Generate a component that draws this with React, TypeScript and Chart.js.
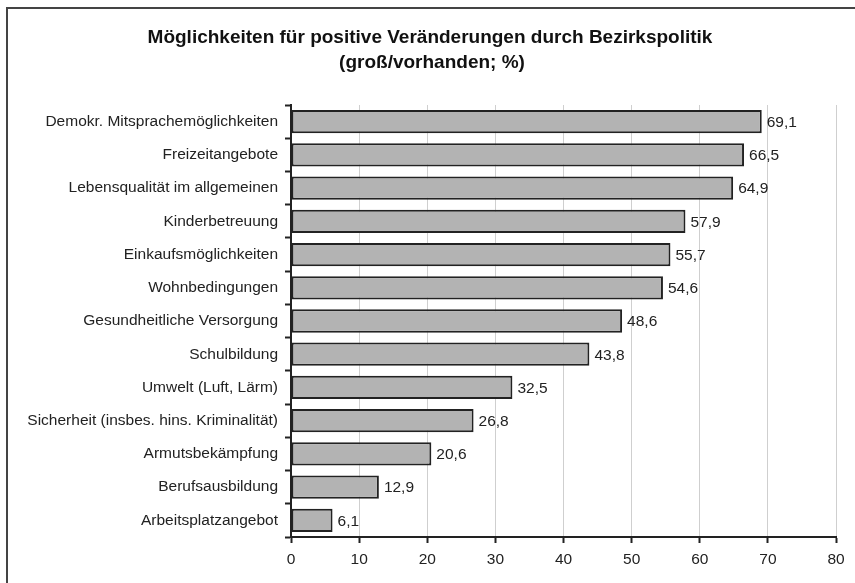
import React, { useEffect, useRef } from "react";
import { Chart, registerables } from "chart.js";

Chart.register(...registerables);

const titleLines = [
  "Möglichkeiten für positive Veränderungen durch Bezirkspolitik",
  "(groß/vorhanden; %)",
];

const categories = [
  "Demokr. Mitsprachemöglichkeiten",
  "Freizeitangebote",
  "Lebensqualität im allgemeinen",
  "Kinderbetreuung",
  "Einkaufsmöglichkeiten",
  "Wohnbedingungen",
  "Gesundheitliche Versorgung",
  "Schulbildung",
  "Umwelt (Luft, Lärm)",
  "Sicherheit (insbes. hins. Kriminalität)",
  "Armutsbekämpfung",
  "Berufsausbildung",
  "Arbeitsplatzangebot",
];

const values = [69.1, 66.5, 64.9, 57.9, 55.7, 54.6, 48.6, 43.8, 32.5, 26.8, 20.6, 12.9, 6.1];

const xMin = 0;
const xMax = 80;
const xStep = 10;

const FONT = '"Liberation Sans", Arial, Helvetica, sans-serif';
const LABEL_SIZE = 15.5;

const titlePlugin = {
  id: "customTitle",
  afterDraw(chart: any) {
    const ctx = chart.ctx;
    ctx.save();
    ctx.fillStyle = "#111";
    ctx.font = `bold 19px ${FONT}`;
    ctx.textAlign = "center";
    ctx.textBaseline = "alphabetic";
    ctx.fillText(titleLines[0], 430, 43);
    ctx.fillText(titleLines[1], 432, 68);
    ctx.restore();
  },
};

const valueLabelPlugin = {
  id: "valueLabels",
  afterDatasetsDraw(chart: any) {
    const ctx = chart.ctx;
    const meta = chart.getDatasetMeta(0);
    ctx.save();
    ctx.fillStyle = "#222";
    ctx.font = `${LABEL_SIZE}px ${FONT}`;
    ctx.textAlign = "left";
    ctx.textBaseline = "middle";
    meta.data.forEach((bar: any, i: number) => {
      const label = values[i].toFixed(1).replace(".", ",");
      ctx.fillText(label, bar.x + 5, bar.y + 1);
    });
    ctx.restore();
  },
};

export default function App() {
  const ref = useRef<HTMLCanvasElement | null>(null);

  useEffect(() => {
    if (!ref.current) return;
    const chart = new Chart(ref.current, {
      type: "bar",
      data: {
        labels: categories,
        datasets: [
          {
            data: values,
            backgroundColor: "#b3b3b3",
            borderColor: "#222",
            borderWidth: 2,
            borderSkipped: false,
            barPercentage: 0.7,
            categoryPercentage: 1,
          },
        ],
      },
      options: {
        indexAxis: "y",
        animation: false,
        responsive: false,
        maintainAspectRatio: false,
        layout: { padding: { left: 0, right: 19, top: 105, bottom: 0 } },
        plugins: {
          legend: { display: false },
          title: { display: false },
          tooltip: { enabled: false },
        },
        scales: {
          x: {
            min: xMin,
            max: xMax,
            ticks: {
              stepSize: xStep,
              color: "#222",
              font: { family: FONT, size: LABEL_SIZE },
              padding: 7,
            },
            grid: {
              color: "#cfcfcf",
              lineWidth: 1,
              tickColor: "#222",
              tickLength: 6,
              tickWidth: 2,
            },
            border: { color: "#222", width: 2 },
            afterFit: (scale: any) => {
              scale.height = 46;
            },
          },
          y: {
            ticks: {
              color: "#222",
              font: { family: FONT, size: LABEL_SIZE },
              padding: 7,
            },
            grid: {
              drawOnChartArea: false,
              offset: true,
              tickColor: "#222",
              tickLength: 6,
              tickWidth: 2,
            },
            border: { color: "#222", width: 2 },
            afterFit: (scale: any) => {
              scale.width = 291;
            },
          },
        },
      },
      plugins: [titlePlugin, valueLabelPlugin],
    });
    return () => chart.destroy();
  }, []);

  return (
    <div style={{ position: "fixed", left: 0, top: 0, width: 855, height: 583, background: "#fff", overflow: "hidden" }}>
      <div
        style={{
          position: "absolute",
          left: 6,
          top: 7,
          width: 900,
          height: 700,
          borderLeft: "2px solid #444",
          borderTop: "2px solid #444",
        }}
      />
      <canvas ref={ref} width={855} height={583} style={{ position: "absolute", left: 0, top: 0 }} />
    </div>
  );
}
